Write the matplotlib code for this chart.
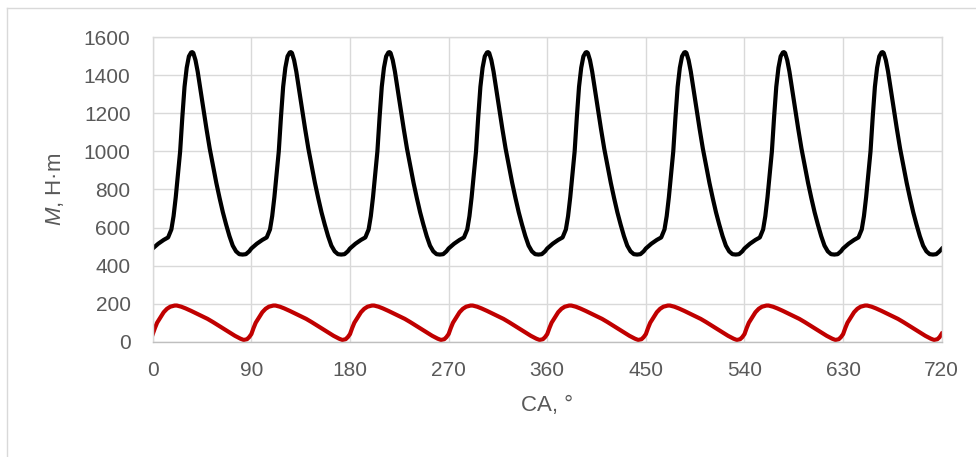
import numpy as np
import matplotlib
matplotlib.use("Agg")
import matplotlib.pyplot as plt
from matplotlib.lines import Line2D

plt.rcParams["font.family"] = "Liberation Sans"
plt.rcParams["mathtext.fontset"] = "custom"
plt.rcParams["mathtext.it"] = "Liberation Sans:italic"
plt.rcParams["mathtext.rm"] = "Liberation Sans"

# one engine cycle (90 deg); the chart repeats it 8 times
cycle_deg_black = [0, 5, 10, 14, 17, 19, 21, 23, 25, 27, 29, 31, 33, 35, 36, 37,
                   39, 41, 43, 46, 49, 52, 55, 58, 61, 64, 67, 70, 73, 76, 79,
                   82, 85, 88]
cycle_M_black = [490, 515, 535, 548, 590, 660, 760, 880, 1000, 1180, 1340, 1440,
                 1500, 1520, 1522, 1518, 1480, 1420, 1345, 1230, 1120, 1015, 925,
                 835, 755, 680, 615, 555, 505, 475, 460, 458, 460, 475]

cycle_deg_red = [0, 2, 4, 7, 10, 13, 16, 20, 22, 26, 30, 35, 40, 45, 50, 55, 60,
                 65, 70, 75, 80, 83, 86, 88]
cycle_M_red = [40, 72, 100, 128, 155, 173, 184, 190, 190, 184, 175, 162, 148,
               134, 120, 103, 85, 67, 49, 31, 16, 9, 13, 24]

n_cycles = 8
period = 90
end_black, end_red = 488, 42

ca_black = np.concatenate([np.array(cycle_deg_black) + k * period for k in range(n_cycles)] + [[720]])
M_black = np.concatenate([cycle_M_black] * n_cycles + [[end_black]])
ca_red = np.concatenate([np.array(cycle_deg_red) + k * period for k in range(n_cycles)] + [[720]])
M_red = np.concatenate([cycle_M_red] * n_cycles + [[end_red]])

fig = plt.figure(figsize=(9.76, 4.57), dpi=100)
ax = fig.add_axes([0.1565, 0.2523, 0.8084, 0.6661])

ax.plot(ca_black, M_black, color="#000000", lw=3.0, solid_joinstyle="round")
ax.plot(ca_red, M_red, color="#C00000", lw=3.0, solid_joinstyle="round")

ax.set_xlim(0, 720); ax.set_ylim(0, 1600)
ax.set_xticks(np.arange(0, 721, 90)); ax.set_yticks(np.arange(0, 1601, 200))
ax.grid(color="#D9D9D9", lw=1.0)
ax.set_axisbelow(True)
for s in ax.spines.values():
    s.set_color("#D9D9D9"); s.set_linewidth(1.0)
ax.spines["bottom"].set_color("#BFBFBF")
ax.tick_params(length=0, labelsize=15, labelcolor="#595959")
ax.tick_params(axis="y", pad=16)
ax.tick_params(axis="x", pad=14)
ax.set_xlabel("CA, °", fontsize=16, color="#595959", labelpad=11)
ax.set_ylabel("$M$, H·m", fontsize=16, color="#595959", labelpad=13)

# outer chart-area border (top and left edges visible)
fig.add_artist(Line2D([7 / 976, 1], [1 - 8 / 457, 1 - 8 / 457],
                      transform=fig.transFigure, color="#D9D9D9", lw=1.0))
fig.add_artist(Line2D([7 / 976, 7 / 976], [0, 1 - 8 / 457],
                      transform=fig.transFigure, color="#D9D9D9", lw=1.0))

fig.savefig("out.png", dpi=100)
